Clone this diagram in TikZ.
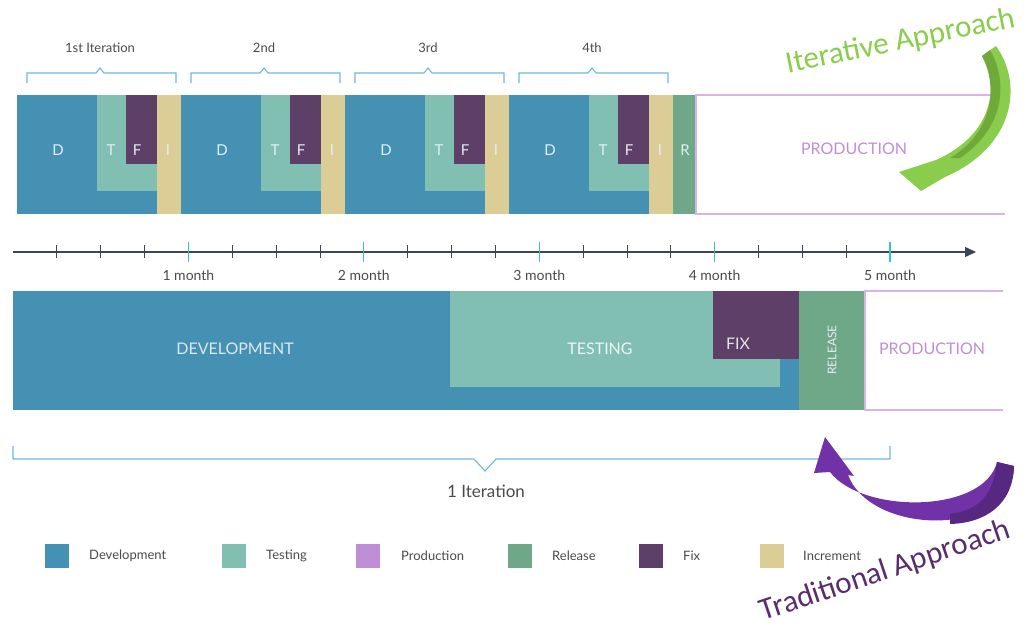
\documentclass[tikz,border=0pt]{standalone}
\usepackage{fontspec}
\setmainfont{Lato}
\newfontfamily\handfont{Carlito}
\usetikzlibrary{arrows.meta}
\definecolor{devblue}{HTML}{4591B4}
\definecolor{testgreen}{HTML}{81BFB2}
\definecolor{prodpurple}{HTML}{C08ED6}
\definecolor{prodline}{HTML}{D7B3E8}
\definecolor{relgreen}{HTML}{6FA888}
\definecolor{fixpurple}{HTML}{5D3F68}
\definecolor{incyellow}{HTML}{DCCD96}
\definecolor{bracecol}{HTML}{6DB5E6}
\definecolor{axiscol}{HTML}{3A4656}
\definecolor{majorcol}{HTML}{35C4C6}
\definecolor{txtgray}{HTML}{4A4A4A}
\definecolor{itgreen}{HTML}{8ACD4C}
\definecolor{itgreendark}{HTML}{6FA93A}
\definecolor{trpurple}{HTML}{7032A6}
\definecolor{trpurpledark}{HTML}{56287F}
\definecolor{trtext}{HTML}{5A2D6E}
\tikzset{
  blocklbl/.style={text=white!85!devblue, font=\fontsize{15}{15}\selectfont},
  biglbl/.style={text=white!80!devblue, font=\fontsize{16}{16}\selectfont},
  prodlbl/.style={text=prodpurple, font=\fontsize{16}{16}\selectfont},
  toplbl/.style={text=txtgray, font=\fontsize{13}{13}\selectfont},
  monthlbl/.style={text=txtgray, font=\fontsize{14}{14}\selectfont},
  legtxt/.style={text=txtgray, font=\fontsize{13}{13}\selectfont, anchor=west, inner sep=0pt},
  bracket/.style={draw=bracecol, line width=1.1pt},
  prodedge/.style={draw=prodline, line width=1.2pt}
}
\begin{document}
\begin{tikzpicture}[x=1pt,y=-1pt]
  \useasboundingbox (0,0) rectangle (1024,634);

  \foreach \i/\lbl in {0/1st Iteration,1/2nd,2/3rd,3/4th}{
    \pgfmathsetmacro\x{17+164*\i}
    \fill[devblue] (\x,95) rectangle ++(140,119);
    \fill[testgreen] (\x+80,95) rectangle ++(60,96);
    \fill[fixpurple] (\x+109,95) rectangle ++(31,69);
    \fill[incyellow] (\x+140,95) rectangle ++(24,119);
    \node[blocklbl] (d\i) at (\x+41,150) {D};
    \node[blocklbl] (t\i) at (\x+94,150) {T};
    \node[blocklbl] (f\i) at (\x+120,150) {F};
    \node[blocklbl] (inc\i) at (\x+151,150) {I};
    \draw[bracket] (\x+10,83) -- (\x+10,73) -- (\x+79,73) -- (\x+83,68)
      -- (\x+87,73) -- (\x+159,73) -- (\x+159,83);
    \node[toplbl] (it\i) at (\x+83,48) {\lbl};
  }

  \fill[relgreen] (673,95) rectangle (696,214);
  \node[blocklbl] (r) at (685,150) {R};
  \draw[prodedge] (1005,95) -- (696,95) -- (696,214) -- (1005,214);
  \node[prodlbl] (prodtop) at (854,149) {PRODUCTION};

  \coordinate (t0) at (13,252);
  \coordinate (tend) at (976,252);
  \draw[axiscol, line width=1.4pt, -{Triangle[length=11pt,width=10pt]}] (t0) -- (tend);
  \foreach \k in {1,...,20}{
    \pgfmathsetmacro\tx{13+43.85*\k}
    \pgfmathtruncatemacro\m{\k/4}
    \ifnum\k=\numexpr\m*4\relax
      \draw[majorcol, line width=1.3pt] (\tx,242) -- (\tx,262);
      \node[monthlbl] (m\m) at (\tx,275) {\m\ month};
    \else
      \draw[axiscol, line width=0.8pt] (\tx,245) -- (\tx,258);
    \fi
  }

  \fill[devblue] (13,291) rectangle (799,410);
  \fill[testgreen] (450,291) rectangle (780,387);
  \fill[fixpurple] (713,291) rectangle (799,359);
  \fill[relgreen] (799,291) rectangle (865,410);
  \draw[prodedge] (1003,291) -- (865,291) -- (865,410) -- (1003,410);
  \node[biglbl] (dev) at (235,349) {DEVELOPMENT};
  \node[biglbl, text=white!85!testgreen] (test) at (600,349) {TESTING};
  \node[biglbl, text=white!85!fixpurple] (fix) at (738,344) {FIX};
  \node[blocklbl, font=\fontsize{12}{12}\selectfont, rotate=90] (rel) at (832,350) {RELEASE};
  \node[prodlbl] (prodbot) at (932,349) {PRODUCTION};

  \draw[bracket] (13,446) -- (13,459) -- (474,459) -- (485,471) -- (496,459)
    -- (890,459) -- (890,446);
  \node[toplbl, font=\fontsize{17}{17}\selectfont] (oneit) at (486,491) {1 Iteration};

  \foreach \c/\name/\lx/\tx in {devblue/Development/45/89, testgreen/Testing/222/266,
      prodpurple/Production/356/401, relgreen/Release/508/552,
      fixpurple/Fix/639/683, incyellow/Increment/760/803}{
    \fill[\c] (\lx,544) rectangle ++(24,24);
    \node[legtxt] (leg\name) at (\tx,556) {\name};
  }

  \fill[itgreen] (982,56) -- (996,46) .. controls (1024,85) and (1014,147) .. (945,177)
    -- (921,191) -- (899,172) -- (936,160)
    .. controls (992,135) and (1000,88) .. (982,56) -- cycle;
  \fill[itgreendark] (982,56) -- (990,50) .. controls (1010,85) and (1002,130) .. (960,158)
    -- (950,158) .. controls (992,133) and (999,88) .. (982,56) -- cycle;
  \node[text=itgreen, font=\handfont\fontsize{31}{31}\selectfont, rotate=11.5, anchor=base]
    (iter) at (902,50) {Iterative Approach};

  \fill[trpurple] (997,462) -- (1014,466) .. controls (1013,537) and (872,537) .. (848,475)
    -- (854,476) -- (825,437) -- (814,473) -- (830,472)
    .. controls (862,514) and (984,514) .. (997,462) -- cycle;
  \fill[trpurpledark] (997,462) -- (1014,466) .. controls (1013,505) and (985,523) .. (950,524)
    -- (950,514) .. controls (980,510) and (993,495) .. (997,462) -- cycle;
  \node[text=trtext, font=\handfont\fontsize{31}{31}\selectfont, rotate=18.5, anchor=base]
    (trad) at (888,579) {Traditional Approach};
\end{tikzpicture}
\end{document}
